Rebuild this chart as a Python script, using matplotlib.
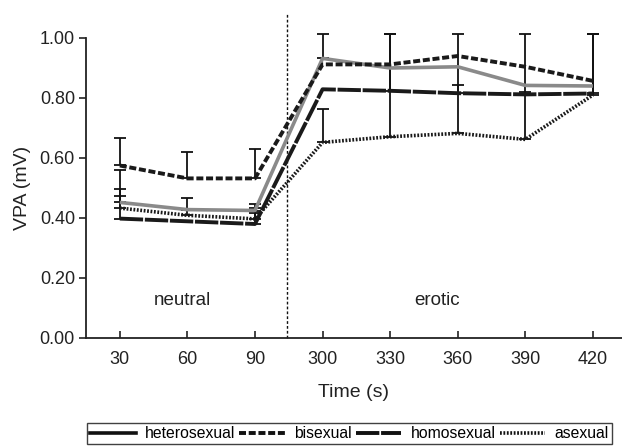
import numpy as np
import matplotlib
matplotlib.use("Agg")
import matplotlib.pyplot as plt
from matplotlib.lines import Line2D

plt.rcParams['font.family'] = ['Liberation Sans', 'DejaVu Sans']

time_labels = ["30", "60", "90", "300", "330", "360", "390", "420"]
hetero = [0.452, 0.428, 0.425, 0.932, 0.900, 0.904, 0.842, 0.840]
bisex = [0.575, 0.532, 0.532, 0.912, 0.912, 0.940, 0.904, 0.857]
homo = [0.398, 0.389, 0.380, 0.829, 0.824, 0.816, 0.812, 0.815]
asex = [0.433, 0.409, 0.397, 0.652, 0.671, 0.682, 0.662, 0.810]

nan = np.nan
hetero_up = [0.560, 0.468, 0.446, 1.012, nan, nan, nan, nan]
bisex_up = [0.665, 0.621, 0.630, nan, nan, nan, nan, nan]
homo_up = [0.472, nan, 0.418, nan, 1.012, 0.843, 0.821, 1.012]
asex_up = [0.496, 0.427, 0.433, 0.762, 1.012, 1.012, 1.012, 1.012]

fig = plt.figure(figsize=(6.22, 4.46), dpi=100)
ax = fig.add_axes([86/622, 1-338/446, 1-86/622, 300/446])
x = np.arange(len(time_labels))

bis_ls = (0, (1.8, 0.7))
homo_ls = (0, (6, 0.45))
asex_ls = (0, (0.5, 0.45))

styles = [
    (hetero, hetero_up, dict(color='#8a8a8a', lw=2.6, ls='-')),
    (bisex, bisex_up, dict(color='#1a1a1a', lw=2.8, ls=bis_ls)),
    (homo, homo_up, dict(color='#1a1a1a', lw=2.8, ls=homo_ls)),
    (asex, asex_up, dict(color='#1a1a1a', lw=2.6, ls=asex_ls)),
]

for vals, ups, st in styles:
    vals = np.array(vals)
    ups = np.array(ups)
    m = ~np.isnan(ups)
    ax.errorbar(x[m], vals[m], yerr=[np.zeros(m.sum()), ups[m] - vals[m]],
                fmt='none', ecolor='#111111', elinewidth=1.3, capsize=4,
                capthick=1.3, clip_on=False, zorder=2)

for vals, ups, st in styles:
    ax.plot(x, vals, zorder=3, solid_capstyle='butt', dash_capstyle='butt', **st)

ax.axvline(2.47, ymin=0, ymax=(338-13)/300, color='#111111', lw=1.0,
           ls=(0, (2, 1.5)), clip_on=False, zorder=1)

ax.text(0.92, 0.124, "neutral", ha='center', va='center', fontsize=13.5, color='#222222')
ax.text(4.7, 0.124, "erotic", ha='center', va='center', fontsize=13.5, color='#222222')

ax.set_xlim(-0.50, 7.43)
ax.set_ylim(0, 1.0)
ax.set_xticks(x)
ax.set_xticklabels(time_labels)
ax.set_yticks([0, 0.2, 0.4, 0.6, 0.8, 1.0])
ax.set_yticklabels(["0.00", "0.20", "0.40", "0.60", "0.80", "1.00"])
ax.tick_params(axis='x', direction='in', length=5, width=1.2, labelsize=13, pad=9, colors='#222222')
ax.tick_params(axis='y', direction='out', length=5, width=1.2, labelsize=13, pad=3, colors='#222222')
for s in ['top', 'right']:
    ax.spines[s].set_visible(False)
for s in ['left', 'bottom']:
    ax.spines[s].set_linewidth(1.3)
    ax.spines[s].set_color('#222222')
ax.set_xlabel("Time (s)", fontsize=14, labelpad=12, color='#222222')
ax.set_ylabel("VPA (mV)", fontsize=14, labelpad=6, color='#222222')

handles = [
    Line2D([], [], color='#111111', lw=2.6, ls='-'),
    Line2D([], [], color='#111111', lw=2.8, ls=bis_ls),
    Line2D([], [], color='#111111', lw=2.8, ls=homo_ls),
    Line2D([], [], color='#111111', lw=2.6, ls=asex_ls),
]
leg = fig.legend(handles, ["heterosexual", "bisexual", "homosexual", "asexual"],
                 loc='upper left', bbox_to_anchor=(87/622, 1-423/446), ncol=4,
                 fontsize=11.3, frameon=True, fancybox=False, handlelength=2.9,
                 handletextpad=0.6, columnspacing=0.25, borderpad=0.2,
                 borderaxespad=0)
leg.get_frame().set_edgecolor('#111111')
leg.get_frame().set_linewidth(1.0)

fig.savefig("out.png", dpi=100)
